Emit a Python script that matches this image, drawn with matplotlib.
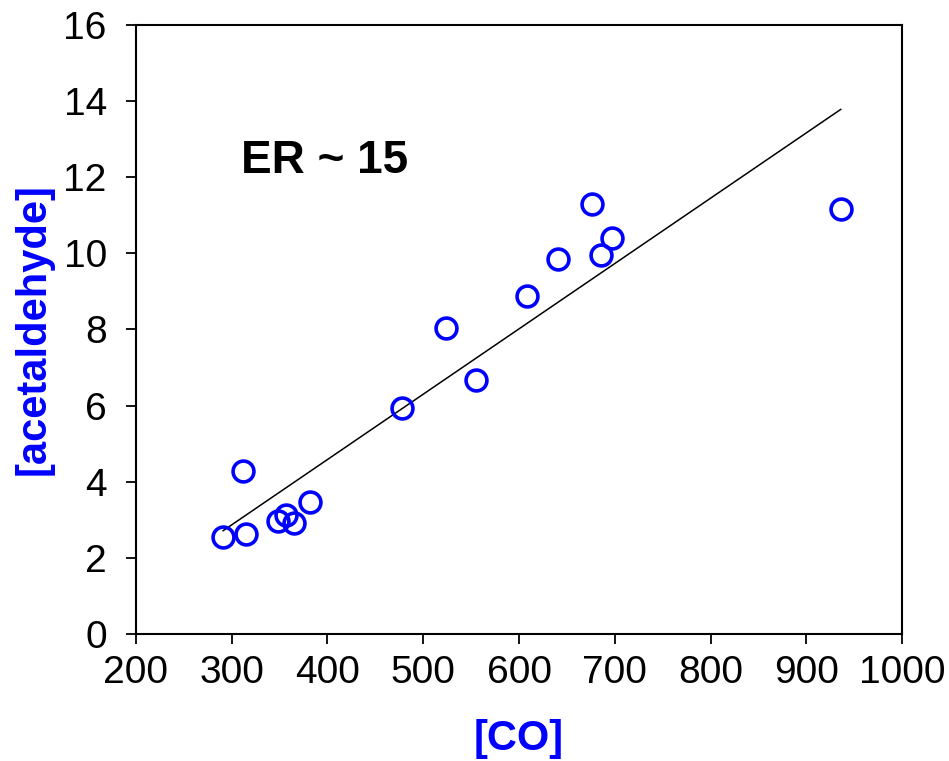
import numpy as np
import matplotlib
matplotlib.use("Agg")
import matplotlib.pyplot as plt

plt.rcParams['font.family'] = ['Liberation Sans', 'DejaVu Sans']

## CO vs acetaldehyde samples
co = [291, 315, 312, 348, 357, 365, 382, 478, 524, 555, 608, 641, 676, 686, 697, 936]
acetaldehyde = [2.55, 2.63, 4.28, 2.97, 3.13, 2.92, 3.47, 5.94, 8.04, 6.67,
                8.88, 9.85, 11.30, 9.96, 10.40, 11.17]

## fitted line (slope / intercept)
fit_slope = 0.01716
fit_intercept = -2.28

x_ticks = [200, 300, 400, 500, 600, 700, 800, 900, 1000]
y_ticks = [0, 2, 4, 6, 8, 10, 12, 14, 16]

fig = plt.figure(figsize=(9.49, 7.61), dpi=100)
ax = fig.add_axes([0.1433, 0.1669, 0.8072, 0.8003])

x = np.array(co)
y = np.array(acetaldehyde)

line_x = np.array([x.min(), x.max()])
ax.plot(line_x, fit_slope * line_x + fit_intercept, color='black', lw=1.1, zorder=2)

ax.plot(x, y, linestyle='none', marker='o', markersize=15, markerfacecolor='none',
        markeredgecolor='#0000FF', markeredgewidth=2.6, zorder=3)

ax.text(310, 12.1, "ER ~ 15", fontsize=33, fontweight='bold', ha='left', va='baseline')

ax.set_xlim(200, 1000)
ax.set_ylim(0, 16)
ax.set_xticks(x_ticks)
ax.set_yticks(y_ticks)

ax.tick_params(axis='both', direction='out', length=7, width=1.3, labelsize=28)
ax.tick_params(axis='y', pad=14)
ax.tick_params(axis='x', pad=8)

for s in ax.spines.values():
    s.set_linewidth(1.5)

ax.set_xlabel("[CO]", fontsize=30, fontweight='bold', color='#0000FF', labelpad=20)
ax.set_ylabel("[acetaldehyde]", fontsize=30, fontweight='bold', color='#0000FF',
              va='center')
ax.yaxis.set_label_coords(-0.134, 0.5)

fig.savefig("out.png", dpi=100)
